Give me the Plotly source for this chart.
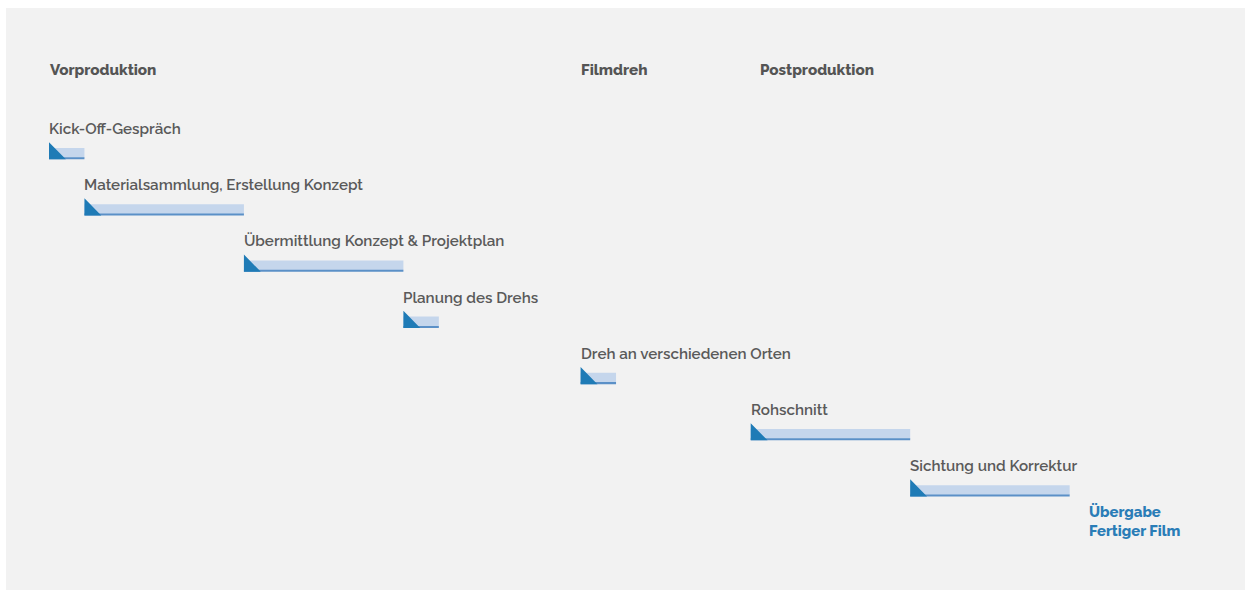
import plotly.graph_objects as go

# ---- data ----
tasks = [
    "Kick-Off-Gespräch",
    "Materialsammlung, Erstellung Konzept",
    "Übermittlung Konzept & Projektplan",
    "Planung des Drehs",
    "Dreh an verschiedenen Orten",
    "Rohschnitt",
    "Sichtung und Korrektur",
]
task_start = [0, 2, 11, 20, 30, 39.6, 48.6]
task_end = [2, 11, 20, 22, 32, 48.6, 57.6]

phases = ["Vorproduktion", "Filmdreh", "Postproduktion"]
phase_start = [0, 30, 40.1]

milestone_label = "Übergabe<br>Fertiger Film"
milestone_x = 58.7

# ---- styles ----
BG = "#f2f2f2"
LIGHT = "#c5d6ec"
LINE = "#5b90c7"
DARK = "#1f7bb6"
TXT = "#5a5a5a"
FONT = "Raleway, Lato, sans-serif"
FS = 15.2
XS = -2

rows = list(range(len(tasks)))
durations = [e - s for s, e in zip(task_start, task_end)]

fig = go.Figure()

# light bar body
fig.add_trace(go.Bar(
    orientation="h", y=rows, x=durations, base=task_start,
    width=0.175, offset=-0.196, marker=dict(color=LIGHT, line=dict(width=0)),
    hoverinfo="skip", showlegend=False,
))
# thin bottom line
fig.add_trace(go.Bar(
    orientation="h", y=rows, x=durations, base=task_start,
    width=0.036, offset=-0.03, marker=dict(color=LINE, line=dict(width=0)),
    hoverinfo="skip", showlegend=False,
))

# dark triangles at the start of each bar
tri_w = 0.95
tri_h = 0.30
tx, ty = [], []
for r, s in zip(rows, task_start):
    tx += [s, s, s + tri_w, s, None]
    ty += [r - tri_h, r + 0.006, r + 0.006, r - tri_h, None]
fig.add_trace(go.Scatter(
    x=tx, y=ty, mode="lines", fill="toself", fillcolor=DARK,
    line=dict(width=0, color=DARK), hoverinfo="skip", showlegend=False,
))

annotations = []
for r, s, t in zip(rows, task_start, tasks):
    annotations.append(dict(
        x=s, y=r - 0.534, text=t, xanchor="left", yanchor="middle", xshift=XS,
        showarrow=False, font=dict(family=FONT, size=FS, color=TXT, weight=600),
    ))
for p, s in zip(phases, phase_start):
    annotations.append(dict(
        x=s, y=-1.584, text=p, xanchor="left", yanchor="middle", xshift=XS,
        showarrow=False, font=dict(family=FONT, size=FS, color="#555555", weight=800),
    ))
annotations.append(dict(
    x=milestone_x, y=6.45, text=milestone_label, xanchor="left", yanchor="middle",
    align="left", showarrow=False, xshift=XS,
    font=dict(family=FONT, size=14.8, color="#2a7db7", weight=800),
))

u = 17.72  # px per unit
plot_w = 1251 - 6 - 6
x0 = -(49 - 6) / u
x1 = x0 + plot_w / u

fig.update_layout(
    width=1251, height=592,
    margin=dict(l=6, r=6, t=8, b=2),
    paper_bgcolor="white", plot_bgcolor=BG,
    barmode="overlay",
    xaxis=dict(range=[x0, x1], visible=False, fixedrange=True),
    yaxis=dict(range=[(590 - 159) / 56.2, (8 - 159) / 56.2], visible=False, fixedrange=True),
    annotations=annotations,
    showlegend=False,
)

fig.write_html(
    "out.html",
    config={"displayModeBar": False},
    post_script="document.body.style.margin='0';document.body.style.overflow='hidden';",
)
